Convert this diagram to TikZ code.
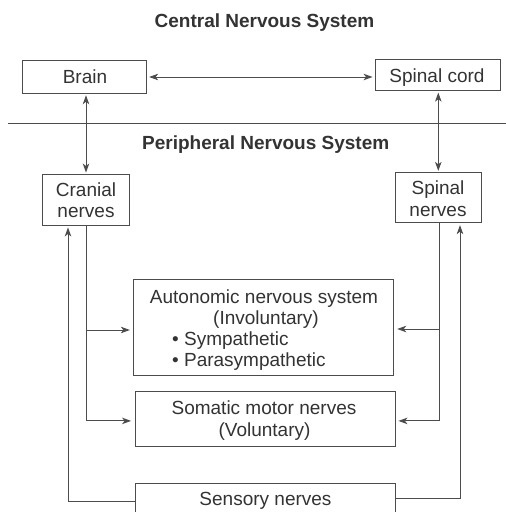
\documentclass[tikz,border=0pt]{standalone}
\usepackage{fontspec}
\setmainfont{Liberation Sans}
\usetikzlibrary{arrows.meta}
\definecolor{ink}{gray}{0.2}
\definecolor{wire}{gray}{0.3}
\begin{document}
\begin{tikzpicture}[x=1pt,y=-1pt,
  box/.style={draw=wire, line width=0.9pt, inner sep=0pt, fill=none},
  txt/.style={font=\fontsize{19}{21}\selectfont, text=ink, inner sep=0pt, anchor=base},
  ttl/.style={txt, font=\fontsize{19}{21}\selectfont\bfseries},
  wireline/.style={draw=wire, line width=0.9pt},
  arr/.style={wireline, -{Stealth[length=9pt,width=6.5pt,inset=2.5pt]}},
  dbl/.style={wireline, {Stealth[length=9pt,width=6.5pt,inset=2.5pt]}-{Stealth[length=9pt,width=6.5pt,inset=2.5pt]}}
]
\useasboundingbox (0,0) rectangle (506,512);
\fill[white] (0,0) rectangle (506,512);
\clip (0,0) rectangle (506,512);

% titles
\node[ttl] (cnsT) at (264.5,27) {Central Nervous System};
\node[ttl] (pnsT) at (265.7,149) {Peripheral Nervous System};
\draw[wireline] (8,123.3) -- (506,123.3);

% boxes
\node[box, minimum width=124pt, minimum height=32.6pt] (brain) at (84.7,77) {};
\node[box, minimum width=125pt, minimum height=31.4pt] (spcord) at (437.5,75) {};
\node[box, minimum width=86.6pt, minimum height=51pt] (cranial) at (86,199.5) {};
\node[box, minimum width=86.7pt, minimum height=50.4pt] (spnerves) at (438.3,197.5) {};
\node[box, minimum width=260pt, minimum height=96.4pt] (auto) at (263.3,327.5) {};
\node[box, minimum width=260pt, minimum height=54.3pt] (somatic) at (265,418.9) {};
\node[box, minimum width=260.5pt, minimum height=54pt] (sensory) at (265.3,510) {};

% labels
\node[txt] (brainT) at (85,83) {Brain};
\node[txt] (spcordT) at (437,82) {Spinal cord};
\node[txt] (cranT1) at (86,196) {Cranial};
\node[txt] (cranT2) at (86,217) {nerves};
\node[txt] (spnT1) at (438,194) {Spinal};
\node[txt] (spnT2) at (438,216) {nerves};
\node[txt] (autoT1) at (264,303) {Autonomic nervous system};
\node[txt] (autoT2) at (266,324) {(Involuntary)};
\node[txt, anchor=base west] (autoT3) at (172,345) {• Sympathetic};
\node[txt, anchor=base west] (autoT4) at (172,366) {• Parasympathetic};
\node[txt] (somT1) at (264,414) {Somatic motor nerves};
\node[txt] (somT2) at (264.5,436) {(Voluntary)};
\node[txt] (senT) at (265.5,505) {Sensory nerves};

% connectors
\draw[dbl, shorten <=2pt, shorten >=2pt] (brain.east) -- (brain.east -| spcord.west);
\draw[dbl, shorten <=1.5pt, shorten >=1pt] (cranial.north |- brain.south) -- (cranial.north);
\draw[dbl, shorten <=1.5pt, shorten >=1pt] (spnerves.north |- spcord.south) -- (spnerves.north);

\draw[arr, shorten >=3.5pt] (cranial.south) |- ([yshift=-2pt]somatic.west);
\draw[arr, shorten >=3pt] ([yshift=-2.5pt]cranial.south |- auto.west) -- ([yshift=-2.5pt]auto.west);
\draw[arr, shorten >=3pt] ([xshift=1.5pt]spnerves.south) |- ([yshift=-2pt]somatic.east);
\draw[arr, shorten >=3.5pt] ([yshift=-1.5pt,xshift=1.5pt]spnerves.south |- auto.east) -- ([yshift=-1.5pt]auto.east);

\draw[arr, shorten >=2pt] ([yshift=9pt]sensory.west) -| ([xshift=-18pt]cranial.south);
\draw[arr, shorten >=2pt] ([yshift=12pt]sensory.east) -| ([xshift=21.7pt]spnerves.south);
\end{tikzpicture}
\end{document}
